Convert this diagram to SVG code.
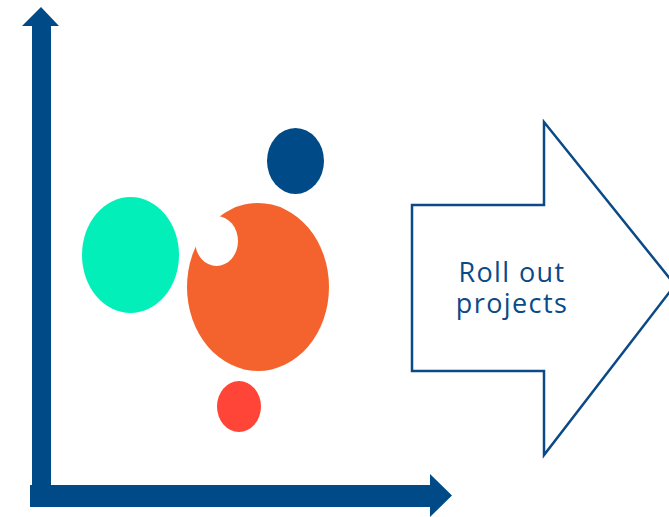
<svg xmlns="http://www.w3.org/2000/svg" width="669" height="517" viewBox="0 0 669 517">
  <style>
    .axis { fill: #004b87; }
    .block { fill: #ffffff; stroke: #0b4a87; stroke-width: 2.5; stroke-linejoin: miter; }
    .label { font-family: "Open Sans", "Liberation Sans", sans-serif; font-size: 27px; letter-spacing: 1.4px; fill: #0b4a87; text-anchor: middle; }
  </style>
  <rect width="669" height="517" fill="#ffffff"/>

  <!-- axes -->
  <g id="axes">
    <path class="axis" d="M41,7 L59,26 L51,26 L51,485 L430,485 L430,474 L452,495.5 L430,517 L430,507 L30,507 L30,485 L32,485 L32,26 L22,26 Z"/>
  </g>

  <!-- bubbles -->
  <g id="bubble-green"><ellipse cx="130.5" cy="255" rx="48.5" ry="58" fill="#03efb9"/></g>
  <g id="bubble-blue"><ellipse cx="295.5" cy="161" rx="28.5" ry="33" fill="#004b87"/></g>
  <g id="bubble-orange">
    <ellipse cx="258" cy="287" rx="71" ry="84" fill="#f4632e"/>
    <ellipse cx="216.5" cy="241" rx="21.5" ry="25" fill="#ffffff"/>
  </g>
  <g id="bubble-red"><ellipse cx="239" cy="406.5" rx="22" ry="25.5" fill="#ff4438"/></g>

  <!-- block arrow -->
  <g id="roll-out">
    <path class="block" d="M412,205 L544,205 L544,122 L675,285 L544,455 L544,371 L412,371 Z"/>
    <text class="label" x="512" y="282">Roll out</text>
    <text class="label" x="512" y="313">projects</text>
  </g>
</svg>
